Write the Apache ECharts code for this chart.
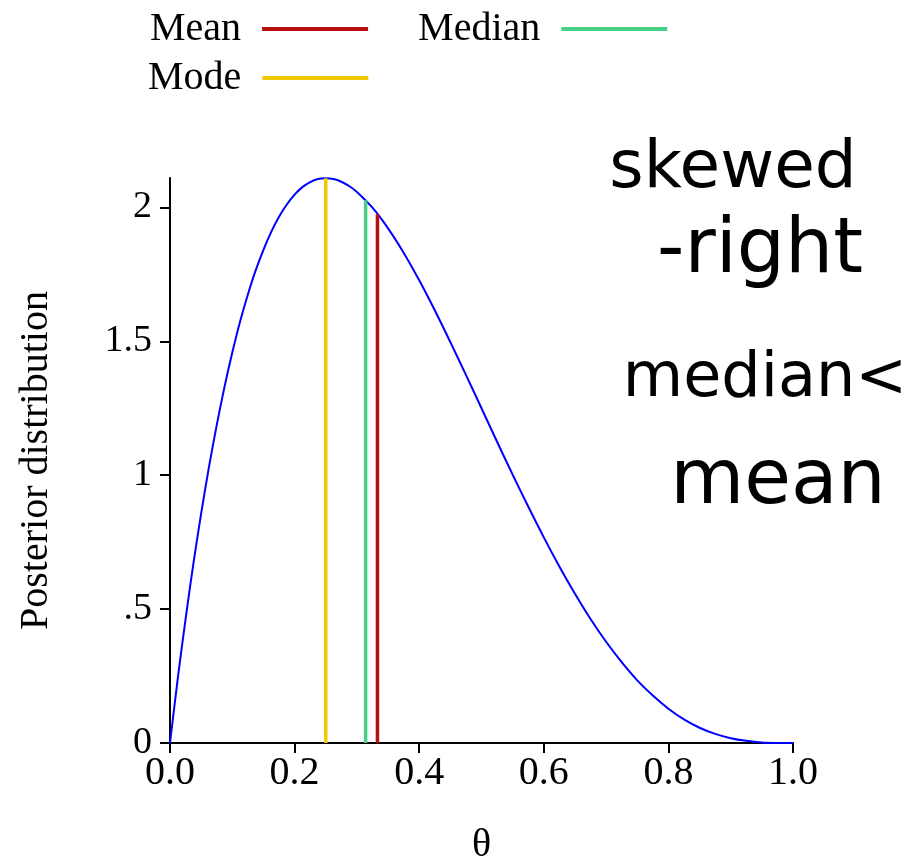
<!DOCTYPE html>
<html>
<head>
<meta charset="utf-8">
<script src="https://cdn.jsdelivr.net/npm/echarts@6/dist/echarts.min.js"></script>
<style>
  html, body { margin: 0; padding: 0; background: #fff; }
  #chart { width: 919px; height: 860px; }
</style>
</head>
<body>
<div id="chart"></div>
<script>
// theta grid and posterior density
const theta = [0, 0.0125, 0.025, 0.0375, 0.05, 0.0625, 0.075, 0.0875, 0.1, 0.1125, 0.125, 0.1375, 0.15, 0.1625, 0.175, 0.1875,
  0.2, 0.2125, 0.225, 0.2375, 0.25, 0.2625, 0.275, 0.2875, 0.3, 0.325, 0.35, 0.375,
  0.4, 0.425, 0.45, 0.475, 0.5, 0.525, 0.55, 0.575, 0.6, 0.625, 0.65, 0.675, 0.7, 0.725, 0.75, 0.775,
  0.8, 0.825, 0.85, 0.875, 0.9, 0.925, 0.95, 0.975, 1];
const density = [0, 0.241, 0.463, 0.669, 0.857, 1.030, 1.187, 1.330, 1.458, 1.574, 1.675, 1.765, 1.842, 1.909, 1.965, 2.011,
  2.048, 2.076, 2.095, 2.106, 2.109, 2.106, 2.096, 2.080, 2.058, 1.999, 1.922, 1.831,
  1.728, 1.616, 1.497, 1.375, 1.25, 1.125, 1.002, 0.883, 0.768, 0.659, 0.557, 0.463, 0.378, 0.302, 0.234, 0.177,
  0.128, 0.088, 0.057, 0.034, 0.018, 0.008, 0.002, 0.0003, 0];

// summary lines: name, theta position, height where it meets the curve
const statNames = ['Mean', 'Median', 'Mode'];
const statTheta = [0.333, 0.314, 0.25];
const statHeight = [1.975, 2.027, 2.109];
const statColors = ['#b80f0f', '#46d184', '#f2c800'];

const yTickValues = [0, 0.5, 1, 1.5, 2];
const yTickLabels = ['0', '.5', '1', '1.5', '2'];

// handwritten note
const noteLines = ['skewed', '-right', 'median<', 'mean'];

const serif = 'Liberation Serif';
const chart = echarts.init(document.getElementById('chart'), null, { renderer: 'canvas' });

let series = [{
  name: 'Posterior',
  type: 'line',
  data: theta.map((t, i) => [t, density[i]]),
  smooth: 0.3,
  showSymbol: false,
  symbol: 'none',
  lineStyle: { color: '#0000ff', width: 2 },
  z: 2
}];
statNames.forEach((n, i) => {
  series.push({
    name: n,
    type: 'line',
    data: [[statTheta[i], 0], [statTheta[i], statHeight[i]]],
    showSymbol: false,
    symbol: 'none',
    lineStyle: { color: statColors[i], width: 3.5 },
    itemStyle: { color: statColors[i] },
    z: 3
  });
});

const legendBase = {
  orient: 'horizontal',
  align: 'right',
  icon: 'rect',
  itemWidth: 106,
  itemHeight: 4,
  itemGap: 50,
  textStyle: { fontFamily: serif, fontSize: 40, color: '#000', padding: [0, 16, 0, 0] }
};

const noteY = [170, 252, 380, 483];
const noteX = [733, 760, 765, 778];
const noteSize = [66, 76, 62, 76];

const option = {
  backgroundColor: '#fff',
  animation: false,
  grid: { left: 170, right: 126, top: 178, bottom: 117, outerBoundsMode: 'none', containLabel: false },
  legend: [
    Object.assign({}, legendBase, { data: ['Mean', 'Median'], left: 145, top: 4 }),
    Object.assign({}, legendBase, { data: ['Mode'], left: 143, top: 53 })
  ],
  xAxis: {
    type: 'value',
    min: 0,
    max: 1,
    interval: 0.2,
    name: 'θ',
    nameLocation: 'middle',
    nameGap: 82,
    nameTextStyle: { fontFamily: serif, fontSize: 40, color: '#000' },
    axisLine: { show: true, lineStyle: { color: '#000', width: 2 } },
    axisTick: { show: true, length: 10, lineStyle: { color: '#000', width: 2 } },
    axisLabel: {
      fontFamily: serif, fontSize: 40, color: '#000', margin: 10,
      formatter: v => v.toFixed(1)
    },
    splitLine: { show: false }
  },
  yAxis: {
    type: 'value',
    min: 0,
    max: 2.11,
    name: 'Posterior distribution',
    nameLocation: 'middle',
    nameRotate: 90,
    nameGap: 114,
    nameTextStyle: { fontFamily: serif, fontSize: 40, color: '#000' },
    axisLine: { show: true, lineStyle: { color: '#000', width: 2 } },
    axisTick: { show: true, length: 10, customValues: yTickValues, lineStyle: { color: '#000', width: 2 } },
    axisLabel: {
      fontFamily: serif, fontSize: 38, color: '#000', margin: 18,
      customValues: yTickValues,
      formatter: v => yTickLabels[yTickValues.indexOf(v)]
    },
    splitLine: { show: false }
  },
  graphic: noteLines.map((t, i) => ({
    type: 'text',
    x: noteX[i],
    y: noteY[i],
    style: {
      text: t,
      fontFamily: 'DejaVu Sans',
      fontSize: noteSize[i],
      fill: '#000',
      textAlign: 'center',
      textVerticalAlign: 'middle'
    }
  })),
  series: series
};

chart.setOption(option);
</script>
</body>
</html>
